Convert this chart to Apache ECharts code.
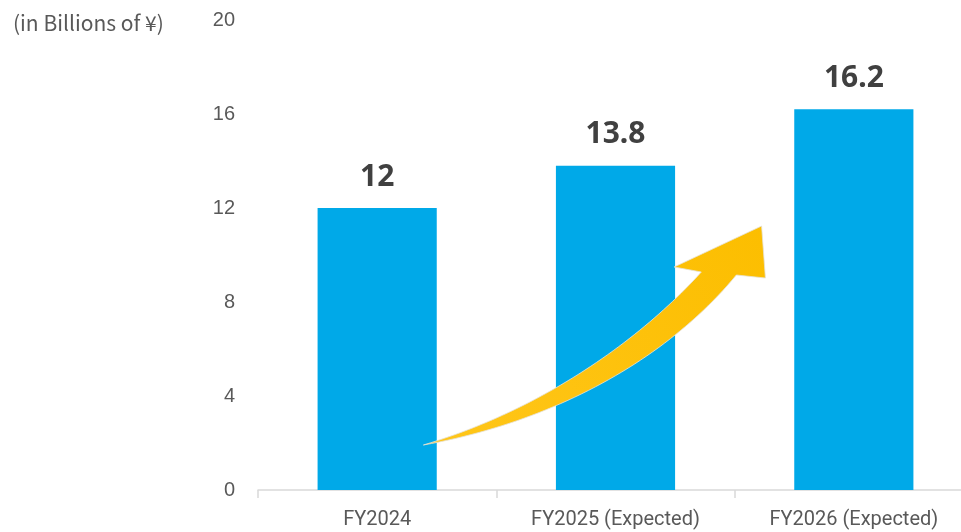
<!DOCTYPE html>
<html>
<head>
<meta charset="utf-8">
<script src="https://cdn.jsdelivr.net/npm/echarts@6/dist/echarts.min.js"></script>
<style>
  html, body { margin: 0; padding: 0; background: #fff; }
  #chart { width: 961px; height: 532px; }
</style>
</head>
<body>
<div id="chart"></div>
<script>
// Sales by fiscal year (in billions of yen)
const categories = ['FY2024', 'FY2025 (Expected)', 'FY2026 (Expected)'];
const salesValues = [12, 13.8, 16.2];
const yTicks = [0, 4, 8, 12, 16, 20];

const chart = echarts.init(document.getElementById('chart'), null, { renderer: 'canvas' });

const option = {
  animation: false,
  backgroundColor: '#ffffff',
  textStyle: { fontFamily: 'Roboto, "Noto Sans", sans-serif' },
  title: {
    text: '(in Billions of ¥)',
    left: 8,
    top: 8,
    textStyle: { fontSize: 21, fontWeight: 'normal', color: '#595959', fontFamily: '"Noto Sans CJK JP", "Noto Sans", sans-serif' }
  },
  grid: { left: 258, top: 20, right: -12, bottom: 42, containLabel: false, outerBoundsMode: 'none' },
  xAxis: {
    type: 'category',
    data: categories,
    axisLine: { show: true, lineStyle: { color: '#d9d9d9', width: 1.5 } },
    axisTick: { show: true, length: 8, lineStyle: { color: '#d9d9d9', width: 1.5 } },
    axisLabel: { color: '#595959', fontSize: 20, margin: 20 }
  },
  yAxis: {
    type: 'value',
    min: yTicks[0],
    max: yTicks[yTicks.length - 1],
    interval: yTicks[1] - yTicks[0],
    axisLine: { show: false },
    axisTick: { show: false },
    splitLine: { show: false },
    axisLabel: { color: '#595959', fontSize: 20, margin: 23, fontFamily: '"Liberation Sans", Arial, sans-serif' }
  },
  series: [{
    type: 'bar',
    data: salesValues,
    barWidth: '50%',
    itemStyle: { color: '#00A9E8' },
    label: {
      show: true,
      position: 'top',
      distance: 16,
      fontSize: 30,
      fontWeight: 'bold',
      color: '#404040',
      fontFamily: '"Noto Sans", "DejaVu Sans", sans-serif'
    }
  }]
};

chart.setOption(option);

// Growth arrow, anchored to the axes: u = offset in category bands from the first category, v = axis value
function cubic(p0, c1, c2, p1, n) {
  const pts = [];
  for (let i = 0; i <= n; i++) {
    const t = i / n, s = 1 - t;
    const a = s * s * s, b = 3 * s * s * t, c = 3 * s * t * t, d = t * t * t;
    pts.push([
      a * p0[0] + b * c1[0] + c * c2[0] + d * p1[0],
      a * p0[1] + b * c1[1] + c * c2[1] + d * p1[1]
    ]);
  }
  return pts;
}

function drawArrow() {
  const x0 = chart.convertToPixel({ xAxisIndex: 0 }, 0);
  const x1 = chart.convertToPixel({ xAxisIndex: 0 }, 1);
  const band = x1 - x0;
  const P = (u, v) => [x0 + u * band, chart.convertToPixel({ yAxisIndex: 0 }, v)];

  const tail = P(0.194, 1.915);
  // upper edge of the shaft
  const uc1 = P(0.699, 3.447);
  const uc2 = P(1.107, 6.426);
  const notchL = P(1.36, 9.277);
  // arrow head
  const barbL = P(1.246, 9.489);
  const tip = P(1.613, 11.234);
  const barbR = P(1.629, 9.02);
  // lower edge of the shaft
  const notchR = P(1.507, 9.149);
  const lc1 = P(1.213, 5.532);
  const lc2 = P(0.737, 2.894);

  const points = []
    .concat(cubic(tail, uc1, uc2, notchL, 48))
    .concat([barbL, tip, barbR])
    .concat(cubic(notchR, lc1, lc2, tail, 48));

  chart.setOption({
    graphic: [{
      type: 'polygon',
      shape: { points: points },
      z: 100,
      style: {
        fill: {
          type: 'linear', x: 0, y: 1, x2: 1, y2: 0,
          colorStops: [
            { offset: 0, color: '#FFC61A' },
            { offset: 1, color: '#FCBE00' }
          ]
        },
        stroke: '#e6e2d6',
        lineWidth: 0.8
      }
    }]
  });
}
drawArrow();
</script>
</body>
</html>
